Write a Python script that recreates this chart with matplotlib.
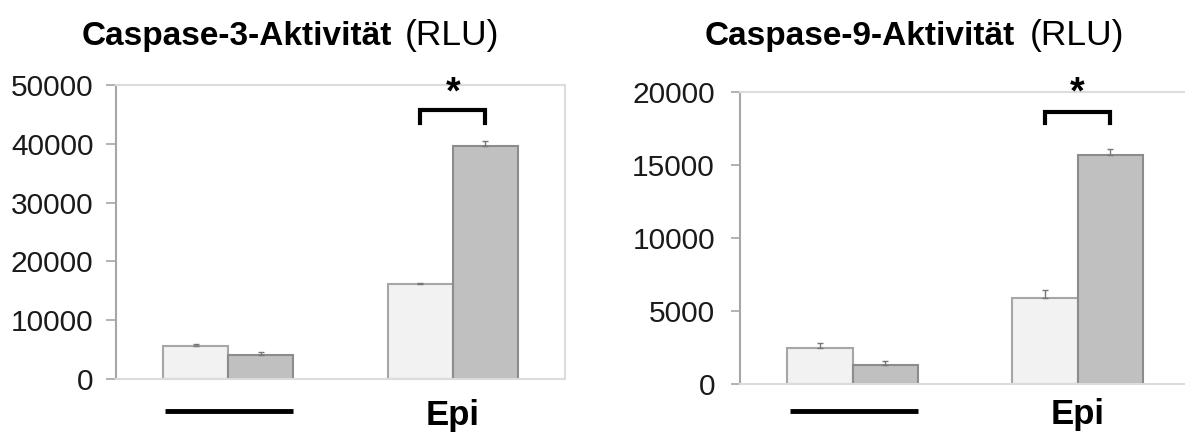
import matplotlib.pyplot as plt
import numpy as np

plt.rcParams['font.family'] = ['Liberation Sans', 'DejaVu Sans']

groups = ['', 'Epi']

# Caspase-3 activity (RLU): light bars = control, dark bars = treated
casp3_light = [5600, 16200]
casp3_light_err = [300, 120]
casp3_dark = [4100, 39600]
casp3_dark_err = [500, 850]
casp3_ticks = [0, 10000, 20000, 30000, 40000, 50000]

# Caspase-9 activity (RLU)
casp9_light = [2500, 5900]
casp9_light_err = [300, 550]
casp9_dark = [1300, 15700]
casp9_dark_err = [280, 400]
casp9_ticks = [0, 5000, 10000, 15000, 20000]

W = 1185
H = 436
fig = plt.figure(figsize=(W / 100, H / 100), dpi=100)


def panel(rect, light, light_err, dark, dark_err, ticks, bracket, star_y,
          line_y, tick_pad, tick_len):
    ax = fig.add_axes(rect)
    x = np.arange(len(groups))
    width = 0.29
    err_kw = dict(ecolor='#777777', elinewidth=1, capsize=2, capthick=1)
    ax.bar(x - width / 2, light, width, color='#f2f2f2', edgecolor='#a6a6a6',
           linewidth=1.5, yerr=[np.zeros(2), light_err], error_kw=err_kw,
           zorder=2)
    ax.bar(x + width / 2, dark, width, color='#c0c0c0', edgecolor='#8c8c8c',
           linewidth=1.5, yerr=[np.zeros(2), dark_err], error_kw=err_kw,
           zorder=2)

    ax.set_xlim(-0.5, 1.5)
    ax.set_ylim(0, ticks[-1])
    ax.set_yticks(ticks)
    ax.set_yticklabels([str(t) for t in ticks])
    ax.set_xticks([])
    ax.tick_params(axis='y', length=tick_len, width=1.2, color='#a6a6a6',
                   labelsize=21.5, labelcolor='#1a1a1a', pad=tick_pad)

    ax.spines['left'].set_color('#a6a6a6')
    ax.spines['left'].set_linewidth(1.5)
    for side in ['top', 'bottom', 'right']:
        ax.spines[side].set_color('#dcdcdc')
        ax.spines[side].set_linewidth(1.5)

    # significance bracket between the two Epi bars
    b_lo, b_hi = bracket
    bx = [1 - width / 2, 1 - width / 2, 1 + width / 2, 1 + width / 2]
    ax.plot(bx, [b_lo, b_hi, b_hi, b_lo], color='black', lw=3,
            solid_joinstyle='miter', clip_on=False, zorder=3)
    ax.text(1, star_y, '*', ha='center', va='center', fontsize=27,
            fontweight='bold', clip_on=False)

    # group labels: black bar for untreated, "Epi" for treated
    ax.plot([-width + 0.01, width], [line_y, line_y], color='black', lw=3.5,
            transform=ax.get_xaxis_transform(), clip_on=False,
            solid_capstyle='butt')
    ax.text(1, line_y - 0.014, groups[1], ha='center', va='center',
            fontsize=25, fontweight='bold',
            transform=ax.get_xaxis_transform())
    return ax


panel([116 / W, 1 - 379 / H, 449 / W, 294 / H],
      casp3_light, casp3_light_err, casp3_dark, casp3_dark_err, casp3_ticks,
      bracket=(43500, 45700), star_y=48500, line_y=-0.109,
      tick_pad=9, tick_len=7.2)

panel([740 / W, 1 - 384 / H, 450 / W, 292 / H],
      casp9_light, casp9_light_err, casp9_dark, casp9_dark_err, casp9_ticks,
      bracket=(17850, 18650), star_y=19900, line_y=-0.092,
      tick_pad=11.5, tick_len=6.5)

# panel titles: bold name followed by the unit in regular weight
title_y = 1 - 36 / H
fig.text(392 / W, title_y, 'Caspase-3-Aktivität', ha='right', va='center',
         fontsize=24, fontweight='bold')
fig.text(405 / W, title_y, '(RLU)', ha='left', va='center', fontsize=25.5)
fig.text(1015 / W, title_y, 'Caspase-9-Aktivität', ha='right', va='center',
         fontsize=24, fontweight='bold')
fig.text(1030 / W, title_y, '(RLU)', ha='left', va='center', fontsize=25.5)

fig.savefig('out.png', dpi=100)
